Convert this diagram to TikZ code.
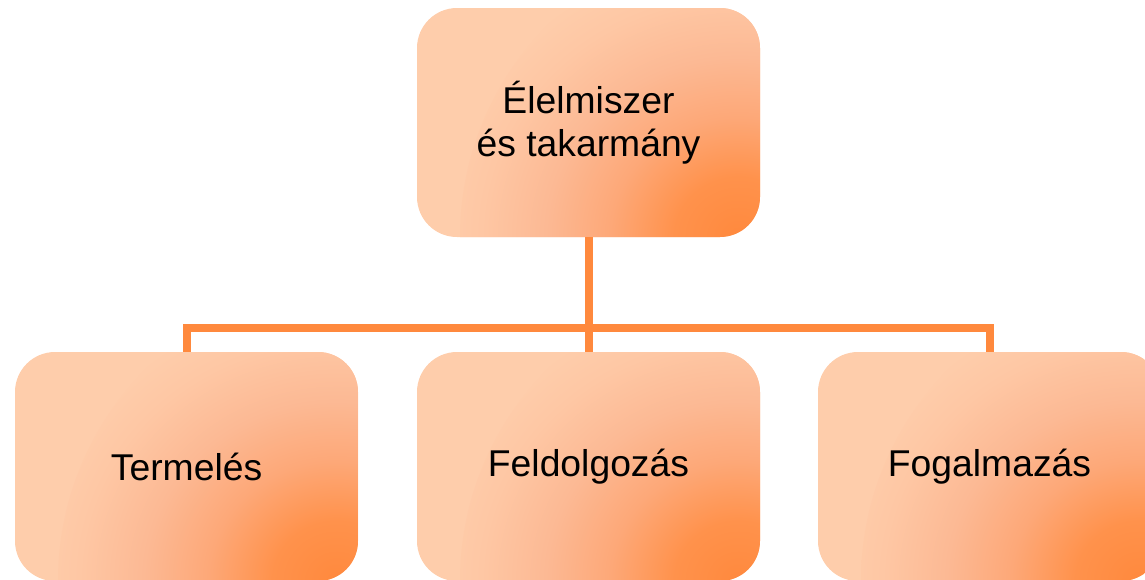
\documentclass[tikz,border=0pt]{standalone}
\usepackage{fontspec}
\setmainfont{Liberation Sans}
\definecolor{peach}{RGB}{254,205,171}
\definecolor{orng}{RGB}{255,137,61}
\definecolor{shA}{RGB}{255,146,76}
\definecolor{shB}{RGB}{253,168,120}
\definecolor{shC}{RGB}{252,185,148}
\definecolor{shD}{RGB}{254,199,164}
\pgfdeclareradialshading{cornershade}{\pgfpoint{0bp}{0bp}}{%
  color(0bp)=(orng); color(5bp)=(shA); color(10bp)=(shB); color(15bp)=(shC); color(20bp)=(shD); color(23.5bp)=(peach); color(50bp)=(peach)}
\tikzset{
  box/.style={rounded corners=40pt, minimum width=343pt, minimum height=229pt,
    fill=peach, inner sep=0pt, align=center,
    font=\fontsize{37.3}{43.5}\selectfont,
    path picture={\shade[shading=cornershade] (path picture bounding box.south east) circle (300pt);}},
  conn/.style={draw=orng, line width=8pt, line join=miter}
}
\begin{document}
\begin{tikzpicture}[x=1pt,y=1pt]
\useasboundingbox (0,0) rectangle (1145,-579);
\coordinate (j) at (588.5,-328);
\node[box] (top) at (588.5,-122.5) {Élelmiszer\\és takarmány};
\node[box] (l) at (186.5,-466.5) {\raisebox{-3pt}{Termelés}};
\node[box] (m) at (588.5,-466.5) {\raisebox{-3pt}{Feldolgozás}};
\node[box] (r) at (989.5,-466.5) {\raisebox{-3pt}{Fogalmazás}};
\draw[conn] (top.south) -- (m.north);
\draw[conn] (l.north) -- (l.north |- j) -- (r.north |- j) -- (r.north);
\end{tikzpicture}
\end{document}
